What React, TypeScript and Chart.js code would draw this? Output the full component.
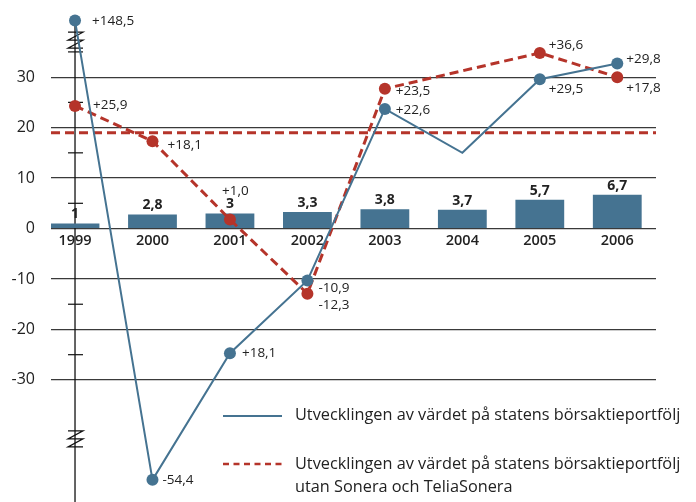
import React, { useEffect, useRef } from 'react';
import { Chart, registerables } from 'chart.js';

Chart.register(...registerables);

// ---------- data ----------
const years = ['1999', '2000', '2001', '2002', '2003', '2004', '2005', '2006'];
const barValues = [1, 2.8, 3, 3.3, 3.8, 3.7, 5.7, 6.7];
const barLabels = ['1', '2,8', '3', '3,3', '3,8', '3,7', '5,7', '6,7'];
// positions as drawn on the broken axis
const portfolioPlotted = [41.2, -49.8, -24.7, -10.3, 23.7, 15.0, 29.6, 32.7];
const portfolioLabels = ['+148,5', '-54,4', '+18,1', '-10,9', '+22,6', null, '+29,5', '+29,8'];
const exclPlotted = [24.3, 17.3, 1.8, -12.9, 27.7, null, 34.8, 30.0];
const exclLabels = ['+25,9', '+18,1', '+1,0', '-12,3', '+23,5', null, '+36,6', '+17,8'];
const referenceLevel = 19;
const yTicks = [-30, -20, -10, 0, 10, 20, 30];
const axisMinorTicks = [35, 25, 15, 5, -15, -25];
const axisBreaks = [38.9, -40.1];
const legendPortfolio = ['Utvecklingen av värdet på statens börsaktieportfölj'];
const legendExcl = ['Utvecklingen av värdet på statens börsaktieportfölj', 'utan Sonera och TeliaSonera'];

// ---------- layout / style ----------
const portfolioLabelOffsets: ([number, number] | null)[] = [[17, 1], [10, 0], [12, 0], [11, 8], [11, 1], null, [9, 10], [9, -4]];
const exclLabelOffsets: ([number, number] | null)[] = [[18, -1], [15, 4], [-8, -28], [11, 12], [11, 2], null, [9, -8], [9, 11]];
const BLUE = '#457391';
const RED = '#b5342a';
const TEXT = '#222222';
const FONT = '"Open Sans", "Noto Sans", sans-serif';
const X_MIN = -0.31;
const X_MAX = 7.5;
const Y_MIN = -53;
const Y_MAX = 43.7;

const decorPlugin = {
  id: 'decor',
  beforeDatasetsDraw(chart: any) {
    const { ctx, scales } = chart;
    const x = scales.x;
    const y = scales.y;
    const ax = x.getPixelForValue(0);
    ctx.save();
    ctx.strokeStyle = '#111';
    ctx.lineWidth = 1.3;
    ctx.beginPath();
    ctx.moveTo(ax, y.getPixelForValue(portfolioPlotted[0]));
    ctx.lineTo(ax, chart.height);
    ctx.stroke();
    ctx.lineWidth = 1.2;
    for (const t of axisMinorTicks) {
      const py = y.getPixelForValue(t);
      ctx.beginPath();
      ctx.moveTo(ax - 7, py);
      ctx.lineTo(ax + 8, py);
      ctx.stroke();
    }
    for (const b of axisBreaks) {
      const py = y.getPixelForValue(b);
      const l = ax - 7;
      const r = ax + 8;
      ctx.beginPath();
      ctx.moveTo(l, py); ctx.lineTo(r, py);
      ctx.lineTo(l, py + 8); ctx.lineTo(r, py + 8);
      ctx.lineTo(l, py + 16); ctx.lineTo(r, py + 16);
      ctx.stroke();
    }
    // year labels
    ctx.fillStyle = TEXT;
    ctx.font = `600 14.5px ${FONT}`;
    ctx.textAlign = 'center';
    ctx.textBaseline = 'middle';
    const zero = y.getPixelForValue(0);
    years.forEach((yr, i) => {
      ctx.fillText(yr, x.getPixelForValue(i), zero + 12);
    });
    ctx.restore();
  },
  afterDatasetsDraw(chart: any) {
    const { ctx } = chart;
    ctx.save();
    ctx.fillStyle = TEXT;
    // bar labels
    const barMeta = chart.getDatasetMeta(3);
    ctx.font = `bold 14px ${FONT}`;
    ctx.textAlign = 'center';
    ctx.textBaseline = 'middle';
    barMeta.data.forEach((el: any, i: number) => {
      ctx.fillText(barLabels[i], el.x, el.y - 9);
    });
    // point labels
    ctx.font = `13.5px ${FONT}`;
    ctx.textAlign = 'left';
    const drawLabels = (idx: number, labels: (string | null)[], offs: ([number, number] | null)[]) => {
      const meta = chart.getDatasetMeta(idx);
      labels.forEach((lab, i) => {
        const o = offs[i];
        if (!lab || !o) return;
        const el = meta.data[i];
        ctx.fillText(lab, el.x + o[0], el.y + o[1]);
      });
    };
    drawLabels(0, portfolioLabels, portfolioLabelOffsets);
    drawLabels(1, exclLabels, exclLabelOffsets);
    ctx.restore();
  },
  afterDraw(chart: any) {
    const { ctx } = chart;
    ctx.save();
    const lx0 = 223;
    const lx1 = 282;
    const tx = 295;
    // solid blue
    ctx.strokeStyle = BLUE;
    ctx.lineWidth = 2.2;
    ctx.beginPath();
    ctx.moveTo(lx0, 416);
    ctx.lineTo(lx1, 416);
    ctx.stroke();
    // dashed red
    ctx.strokeStyle = RED;
    ctx.lineWidth = 2.5;
    ctx.setLineDash([6, 4.5]);
    ctx.beginPath();
    ctx.moveTo(lx0, 464);
    ctx.lineTo(lx1, 464);
    ctx.stroke();
    ctx.setLineDash([]);
    ctx.fillStyle = TEXT;
    ctx.font = `16.3px ${FONT}`;
    ctx.textAlign = 'left';
    ctx.textBaseline = 'middle';
    legendPortfolio.forEach((t, i) => ctx.fillText(t, tx, 415 + i * 23));
    legendExcl.forEach((t, i) => ctx.fillText(t, tx, 464 + i * 23));
    ctx.restore();
  },
};

export default function App() {
  const ref = useRef<HTMLCanvasElement | null>(null);
  useEffect(() => {
    if (!ref.current) return;
    Chart.defaults.font.family = FONT;
    const chart = new Chart(ref.current, {
      type: 'bar',
      data: {
        datasets: [
          {
            type: 'line',
            data: years.map((_, i) => ({ x: i, y: portfolioPlotted[i] })),
            borderColor: BLUE,
            backgroundColor: BLUE,
            borderWidth: 2,
            pointRadius: portfolioLabels.map((l) => (l ? 6 : 0)),
            pointBackgroundColor: BLUE,
            pointBorderColor: BLUE,
            pointBorderWidth: 0,
            tension: 0,
            order: 0,
          } as any,
          {
            type: 'line',
            data: years.map((_, i) => ({ x: i, y: exclPlotted[i] })),
            borderColor: RED,
            backgroundColor: RED,
            borderWidth: 3,
            borderDash: [9, 5],
            pointRadius: 6,
            pointBackgroundColor: RED,
            pointBorderColor: RED,
            pointBorderWidth: 0,
            spanGaps: true,
            tension: 0,
            order: 1,
          } as any,
          {
            type: 'line',
            data: [{ x: X_MIN, y: referenceLevel }, { x: X_MAX, y: referenceLevel }],
            borderColor: RED,
            borderWidth: 3,
            borderDash: [9, 5],
            pointRadius: 0,
            order: 2,
          } as any,
          {
            type: 'bar',
            data: years.map((_, i) => ({ x: i, y: barValues[i] })),
            backgroundColor: BLUE,
            barPercentage: 0.63,
            categoryPercentage: 1,
            order: 3,
          } as any,
        ],
      },
      options: {
        responsive: false,
        animation: false,
        events: [],
        layout: { padding: { top: 8, right: 40, left: 0, bottom: 0 } },
        plugins: { legend: { display: false }, tooltip: { enabled: false } },
        scales: {
          x: {
            type: 'linear',
            min: X_MIN,
            max: X_MAX,
            offset: false,
            display: false,
            afterBuildTicks: (s: any) => {
              s.ticks = years.map((_, i) => ({ value: i }));
            },
          },
          y: {
            type: 'linear',
            min: Y_MIN,
            max: Y_MAX,
            afterBuildTicks: (s: any) => {
              s.ticks = yTicks.map((v) => ({ value: v }));
            },
            afterFit: (s: any) => {
              s.width = 51;
              s.paddingTop = 0;
              s.paddingBottom = 0;
            },
            ticks: {
              color: TEXT,
              padding: 16,
              font: { size: 16, family: FONT },
              callback: (v: any) => String(v),
            },
            grid: { drawTicks: false, color: '#3a3a3a', lineWidth: 1.2 },
            border: { display: false },
          },
        },
      } as any,
      plugins: [decorPlugin],
    });
    return () => chart.destroy();
  }, []);
  return (
    <div style={{ position: 'absolute', left: 0, top: 0, width: 696, height: 502, background: '#fff' }}>
      <canvas ref={ref} width={696} height={502} />
    </div>
  );
}
